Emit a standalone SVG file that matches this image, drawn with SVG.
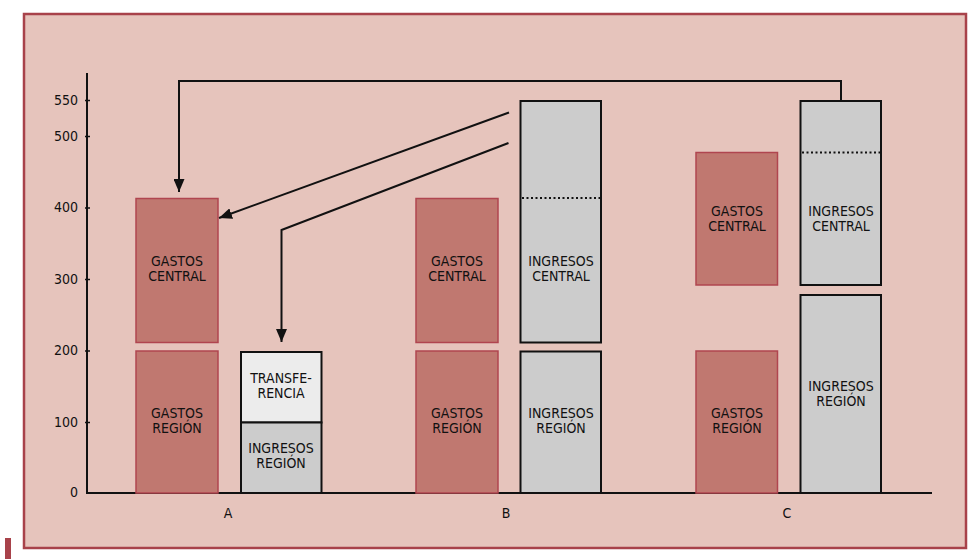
<svg xmlns="http://www.w3.org/2000/svg" width="968" height="559" viewBox="0 0 968 559">
<defs>
<style>
.t{font-family:"DejaVu Sans Condensed","Liberation Sans",sans-serif;font-size:14px;fill:#111;text-anchor:middle;dominant-baseline:central}
.ax{font-family:"DejaVu Sans Condensed","Liberation Sans",sans-serif;font-size:14px;fill:#111;text-anchor:end;dominant-baseline:central}
.g{fill:#c07870;stroke:#b0454f;stroke-width:1.5}
.i{fill:#cccccc;stroke:#111;stroke-width:2}
.l{fill:#ececec;stroke:#111;stroke-width:2}
.c{fill:none;stroke:#111;stroke-width:2}
.d{stroke:#111;stroke-width:2;stroke-dasharray:2 2.5}
</style>
<marker id="ah" markerWidth="13" markerHeight="11" refX="13" refY="5.5" orient="auto" markerUnits="userSpaceOnUse">
<path d="M0,0 L13,5.5 L0,11 Z" fill="#111"/>
</marker>
</defs>
<rect x="0" y="0" width="968" height="559" fill="#ffffff"/>
<rect x="24" y="14" width="942" height="534" fill="#e6c4bc" stroke="#a8424a" stroke-width="2.5"/>
<rect x="5" y="538" width="6" height="21" fill="#a8424a"/>
<g id="axes">
<line x1="87" y1="73" x2="87" y2="494" stroke="#111" stroke-width="2"/>
<line x1="86" y1="493" x2="932" y2="493" stroke="#111" stroke-width="2"/>
<g stroke="#111" stroke-width="1.5">
<line x1="85" y1="100.5" x2="90" y2="100.5"/>
<line x1="85" y1="136.5" x2="90" y2="136.5"/>
<line x1="85" y1="208" x2="90" y2="208"/>
<line x1="85" y1="279.5" x2="90" y2="279.5"/>
<line x1="85" y1="351" x2="90" y2="351"/>
<line x1="85" y1="422.5" x2="90" y2="422.5"/>
</g>
<text class="ax" x="78" y="100">550</text>
<text class="ax" x="78" y="136">500</text>
<text class="ax" x="78" y="207">400</text>
<text class="ax" x="78" y="279">300</text>
<text class="ax" x="78" y="350">200</text>
<text class="ax" x="78" y="422">100</text>
<text class="ax" x="78" y="492">0</text>
<text class="t" x="228" y="513">A</text>
<text class="t" x="506" y="513">B</text>
<text class="t" x="787" y="513">C</text>
</g>
<g id="a-gastos-central"><rect class="g" x="136" y="198.5" width="82" height="144"/><text class="t" x="177" y="261">GASTOS</text><text class="t" x="177" y="276">CENTRAL</text></g>
<g id="a-gastos-region"><rect class="g" x="136" y="351" width="82" height="142"/><text class="t" x="177" y="412.5">GASTOS</text><text class="t" x="177" y="427.5">REGIÓN</text></g>
<g id="a-transferencia"><rect class="l" x="241" y="352" width="80.5" height="70.5"/><text class="t" x="281" y="377.5">TRANSFE-</text><text class="t" x="281" y="392.5">RENCIA</text></g>
<g id="a-ingresos-region"><rect class="i" x="241" y="422.5" width="80.5" height="70.5"/><text class="t" x="281" y="447.5">INGRESOS</text><text class="t" x="281" y="462.5">REGIÓN</text></g>
<g id="b-gastos-central"><rect class="g" x="416" y="198.5" width="82" height="144"/><text class="t" x="457" y="261">GASTOS</text><text class="t" x="457" y="276">CENTRAL</text></g>
<g id="b-gastos-region"><rect class="g" x="416" y="351" width="82" height="142"/><text class="t" x="457" y="412.5">GASTOS</text><text class="t" x="457" y="427.5">REGIÓN</text></g>
<g id="b-ingresos-central"><rect class="i" x="520.5" y="101" width="80.5" height="241.5"/><line class="d" x1="522" y1="198" x2="600" y2="198"/><text class="t" x="561" y="261">INGRESOS</text><text class="t" x="561" y="276">CENTRAL</text></g>
<g id="b-ingresos-region"><rect class="i" x="520.5" y="351.5" width="80.5" height="141.5"/><text class="t" x="561" y="412.5">INGRESOS</text><text class="t" x="561" y="427.5">REGIÓN</text></g>
<g id="c-gastos-central"><rect class="g" x="696" y="152.5" width="81.5" height="132.5"/><text class="t" x="737" y="211">GASTOS</text><text class="t" x="737" y="226">CENTRAL</text></g>
<g id="c-gastos-region"><rect class="g" x="696" y="351" width="81.5" height="142"/><text class="t" x="737" y="413">GASTOS</text><text class="t" x="737" y="428">REGIÓN</text></g>
<g id="c-ingresos-central"><rect class="i" x="800.5" y="101" width="80.5" height="184"/><line class="d" x1="802" y1="152.5" x2="880" y2="152.5"/><text class="t" x="841" y="211">INGRESOS</text><text class="t" x="841" y="226">CENTRAL</text></g>
<g id="c-ingresos-region"><rect class="i" x="800.5" y="295" width="80.5" height="198"/><text class="t" x="841" y="386">INGRESOS</text><text class="t" x="841" y="401">REGIÓN</text></g>
<g id="connectors">
<path class="c" d="M841,101 V81 H179 V192" marker-end="url(#ah)"/>
<path class="c" d="M509,112.5 L219,218" marker-end="url(#ah)"/>
<path class="c" d="M508.5,143 L281.5,230 V342" marker-end="url(#ah)"/>
</g>
</svg>
